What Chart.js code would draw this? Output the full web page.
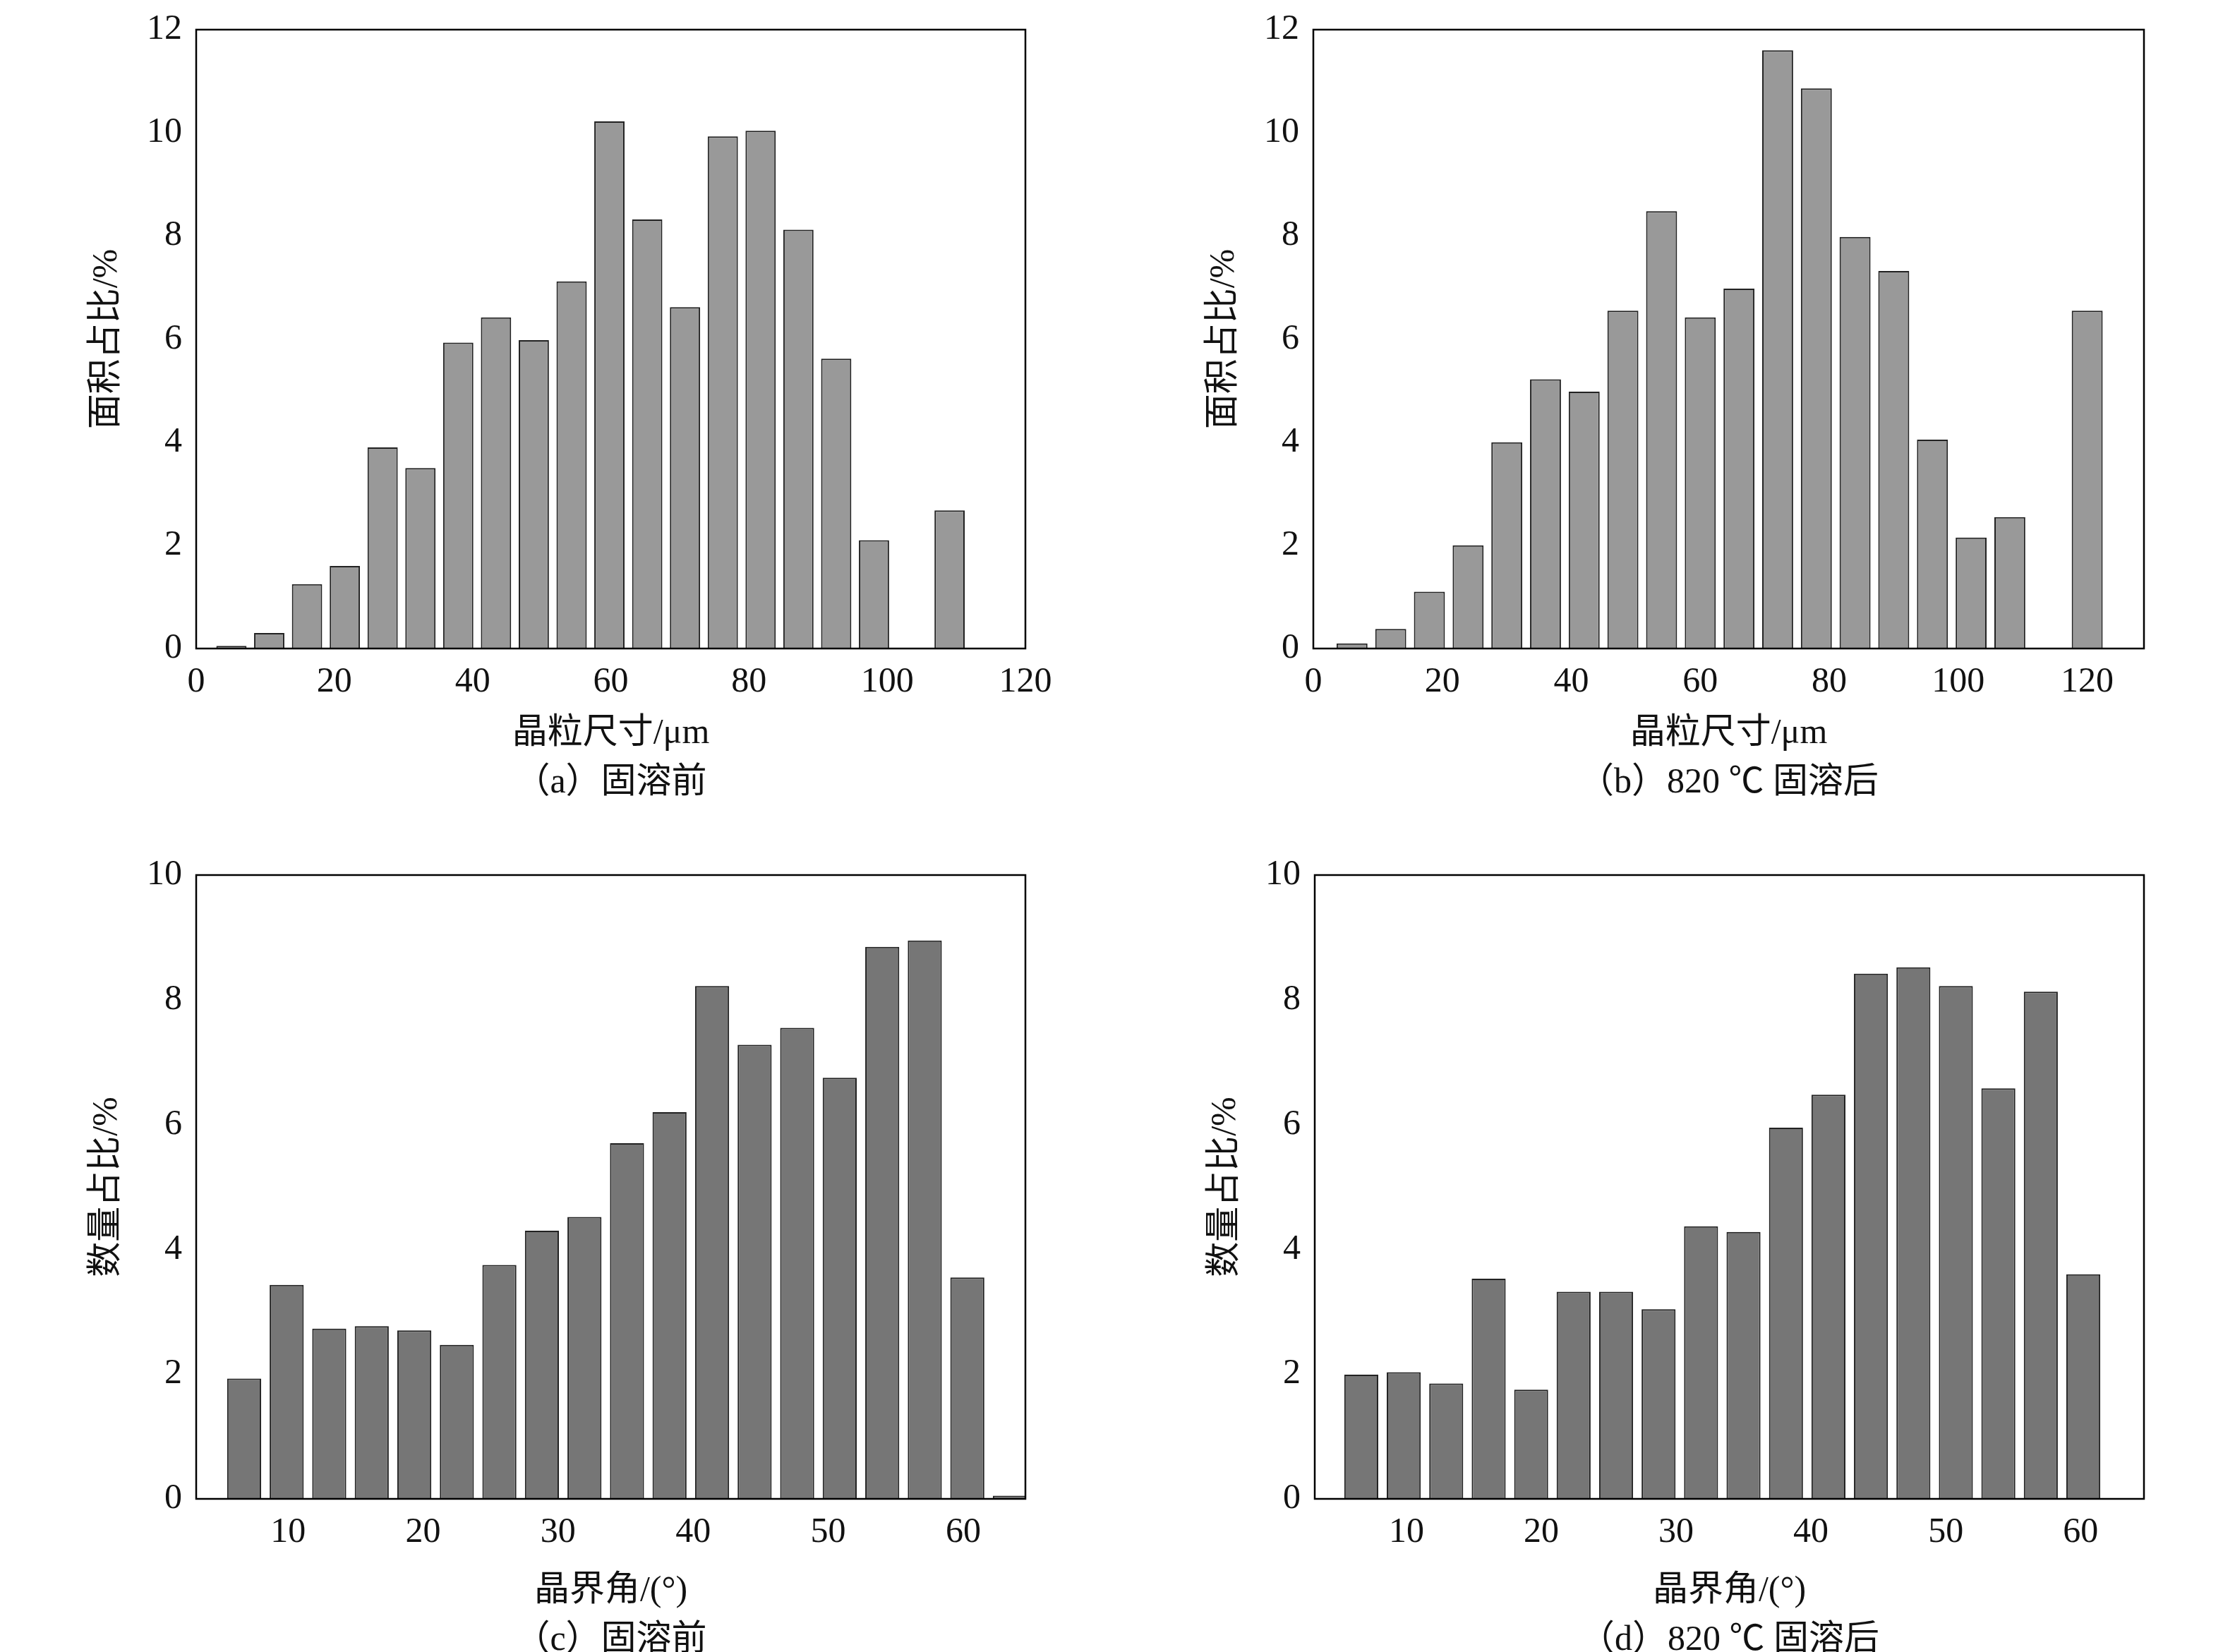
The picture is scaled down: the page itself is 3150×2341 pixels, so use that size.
<!DOCTYPE html>
<html>
<head>
<meta charset="utf-8">
<script src="https://cdn.jsdelivr.net/npm/chart.js@4"></script>
<style>
  body { margin: 0; background: #fff; width: 3150px; height: 2341px; position: relative; overflow: hidden; }
  .box { position: absolute; }
</style>
</head>
<body>
<div class="box" style="left:0;top:0;width:1575px;height:1170px"><canvas id="chartA"></canvas></div>
<div class="box" style="left:1575px;top:0;width:1575px;height:1170px"><canvas id="chartB"></canvas></div>
<div class="box" style="left:0;top:1170px;width:1575px;height:1171px"><canvas id="chartC"></canvas></div>
<div class="box" style="left:1575px;top:1170px;width:1575px;height:1171px"><canvas id="chartD"></canvas></div>
<script>
const serif = "'Liberation Serif', 'Noto Sans CJK SC', serif";
const cjk = "'Liberation Serif', 'Noto Sans CJK SC', serif";

// grain size (um) -> area fraction (%)
const sizeA = [0.05, 0.3, 1.25, 1.6, 3.9, 3.5, 5.93, 6.42, 5.98, 7.12, 10.22, 8.32, 6.62, 9.93, 10.04, 8.12, 5.62, 2.1, 0, 2.68, 0];
const sizeB = [0.1, 0.38, 1.1, 2.0, 4.0, 5.22, 4.98, 6.55, 8.48, 6.42, 6.98, 11.6, 10.86, 7.98, 7.32, 4.05, 2.15, 2.55, 0, 6.55, 0];
// grain boundary angle -> number fraction (%)
const angC = [0, 1.93, 3.43, 2.73, 2.77, 2.7, 2.47, 3.75, 4.3, 4.52, 5.7, 6.2, 8.22, 7.28, 7.55, 6.75, 8.85, 8.95, 3.55, 0.05];
const angD = [0, 1.99, 2.03, 1.85, 3.53, 1.75, 3.32, 3.32, 3.04, 4.37, 4.28, 5.95, 6.48, 8.42, 8.52, 8.22, 6.58, 8.13, 3.6, 0];

const panels = [
  { id: 'chartA', start: 5.1, step: 5.47, vals: sizeA, xmin: 0, xmax: 120, xstep: 20, ymax: 12,
    color: '#999999', ytitle: '面积占比/%', xtitle: '晶粒尺寸/μm', caption: '（a）固溶前',
    pad: { top: 25, right: 122 }, yw: 278, xh: 251, titleY: 1040, capY: 1110 },
  { id: 'chartB', start: 6, step: 6, vals: sizeB, xmin: 0, xmax: 128.8, xstep: 20, ymax: 12,
    color: '#999999', ytitle: '面积占比/%', xtitle: '晶粒尺寸/μm', caption: '（b）820 ℃ 固溶后',
    pad: { top: 25, right: 112 }, yw: 286, xh: 251, titleY: 1040, capY: 1110 },
  { id: 'chartC', start: 3.6, step: 3.15, vals: angC, xmin: 3.2, xmax: 64.6, xstep: 10, ymax: 10,
    color: '#767676', ytitle: '数量占比/%', xtitle: '晶界角/(°)', caption: '（c）固溶前',
    pad: { top: 70, right: 122 }, yw: 278, xh: 217, titleY: 1085, capY: 1155 },
  { id: 'chartD', start: 3.5, step: 3.15, vals: angD, xmin: 3.2, xmax: 64.7, xstep: 10, ymax: 10,
    color: '#767676', ytitle: '数量占比/%', xtitle: '晶界角/(°)', caption: '（d）820 ℃ 固溶后',
    pad: { top: 70, right: 112 }, yw: 288, xh: 217, titleY: 1085, capY: 1155 }
];

const frame = {
  id: 'frame',
  afterDraw(chart) {
    const p = chart.options.plugins.frame;
    const a = chart.chartArea, ctx = chart.ctx;
    ctx.save();
    ctx.strokeStyle = '#000';
    ctx.lineWidth = 2.5;
    ctx.strokeRect(a.left, a.top, a.right - a.left, a.bottom - a.top);
    ctx.fillStyle = '#111';
    ctx.textAlign = 'center';
    ctx.textBaseline = 'middle';
    ctx.font = '50px ' + cjk;
    const cx = (a.left + a.right) / 2;
    ctx.fillText(p.xtitle, cx, p.titleY);
    ctx.fillText(p.caption, cx, p.capY);
    ctx.translate(p.yx, (a.top + a.bottom) / 2);
    ctx.rotate(-Math.PI / 2);
    ctx.fillText(p.ytitle, 0, 0);
    ctx.restore();
  }
};

panels.forEach(function (cfg) {
  const data = cfg.vals.map((v, i) => ({ x: cfg.start + cfg.step * i, y: v }));
  new Chart(document.getElementById(cfg.id), {
    type: 'bar',
    data: {
      datasets: [{
        data: data,
        backgroundColor: cfg.color,
        borderColor: '#222',
        borderWidth: 2,
        barPercentage: 0.8,
        categoryPercentage: 1
      }]
    },
    options: {
      responsive: true,
      maintainAspectRatio: false,
      animation: false,
      layout: { padding: { top: cfg.pad.top, right: cfg.pad.right, left: 0, bottom: 0 } },
      plugins: {
        legend: { display: false },
        tooltip: { enabled: false },
        frame: { xtitle: cfg.xtitle, ytitle: cfg.ytitle, caption: cfg.caption,
                 titleY: cfg.titleY, capY: cfg.capY, yx: cfg.yw - 126 }
      },
      scales: {
        x: {
          type: 'linear', min: cfg.xmin, max: cfg.xmax, offset: false,
          grid: { display: false }, border: { display: false },
          ticks: { stepSize: cfg.xstep, color: '#111', font: { family: serif, size: 50 }, padding: 10, maxRotation: 0, autoSkip: false },
          afterBuildTicks: s => {
            const t = [];
            for (let v = Math.ceil(cfg.xmin / cfg.xstep) * cfg.xstep; v <= cfg.xmax + 1e-9; v += cfg.xstep) t.push({ value: v });
            s.ticks = t;
          },
          afterFit: s => { s.height = cfg.xh; }
        },
        y: {
          min: 0, max: cfg.ymax,
          grid: { display: false }, border: { display: false },
          ticks: { stepSize: 2, color: '#111', font: { family: serif, size: 50 }, padding: 12 },
          afterFit: s => { s.width = cfg.yw; }
        }
      }
    },
    plugins: [frame]
  });
});
</script>
</body>
</html>
